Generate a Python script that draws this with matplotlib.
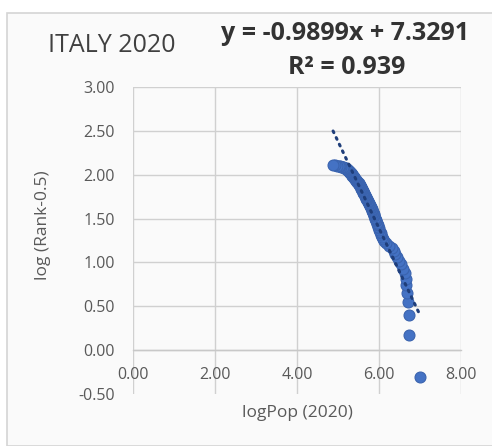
import numpy as np
import matplotlib
matplotlib.use("Agg")
import matplotlib.pyplot as plt
from matplotlib.patches import Rectangle

plt.rcParams['font.family'] = ['Open Sans', 'DejaVu Sans']

# logPop (2020) for each city, ordered by rank 1..129
log_pop = [
    7.00, 6.74, 6.74, 6.70, 6.68, 6.67, 6.65, 6.63, 6.59, 6.54,
    6.49, 6.44, 6.40, 6.37, 6.32, 6.25, 6.18, 6.13, 6.09, 6.08,
    6.06, 6.04, 6.03, 6.01, 6.00, 5.98, 5.97, 5.96, 5.95, 5.93,
    5.92, 5.91, 5.90, 5.89, 5.88, 5.87, 5.86, 5.85, 5.84, 5.83,
    5.82, 5.81, 5.80, 5.79, 5.78, 5.77, 5.76, 5.75, 5.74, 5.73,
    5.72, 5.71, 5.70, 5.69, 5.68, 5.68, 5.67, 5.66, 5.65, 5.64,
    5.64, 5.63, 5.62, 5.61, 5.61, 5.60, 5.59, 5.59, 5.58, 5.57,
    5.56, 5.56, 5.55, 5.54, 5.54, 5.53, 5.52, 5.51, 5.51, 5.50,
    5.49, 5.48, 5.47, 5.46, 5.46, 5.45, 5.44, 5.43, 5.42, 5.41,
    5.41, 5.40, 5.39, 5.38, 5.38, 5.37, 5.36, 5.35, 5.35, 5.34,
    5.33, 5.33, 5.32, 5.31, 5.31, 5.30, 5.29, 5.29, 5.28, 5.27,
    5.27, 5.26, 5.25, 5.24, 5.23, 5.22, 5.21, 5.20, 5.19, 5.17,
    5.15, 5.13, 5.11, 5.08, 5.05, 5.02, 4.98, 4.93, 4.88,
]
rank = np.arange(1, len(log_pop) + 1)
log_rank = np.log10(rank - 0.5)

# Excel linear trendline as printed on the chart
slope = -0.9899
intercept = 7.3291
r_squared = 0.939

x_ticks = [0, 2, 4, 6, 8]
y_ticks = [-0.5, 0, 0.5, 1, 1.5, 2, 2.5, 3]

fig = plt.figure(figsize=(4.92, 4.46), dpi=100)
fig.patch.set_facecolor('white')

# chart frame
frame = Rectangle((7 / 492, 0.5 / 446), 1.2, (446 - 13.5) / 446,
                  transform=fig.transFigure, facecolor='#fafafa',
                  edgecolor='#d4d4d4', linewidth=1.2, zorder=-10)
fig.patches.append(frame)

ax = fig.add_axes([133 / 492, 52 / 446, 328 / 492, 307 / 446])
ax.set_facecolor('#fafafa')

ax.scatter(log_pop, log_rank, s=62, facecolor='#4472C4',
           edgecolor='#3A63AE', linewidth=0.8, zorder=3)

xs = np.array([min(log_pop), max(log_pop)])
ax.plot(xs, slope * xs + intercept, color='#1F3E7A', linewidth=2.2,
        linestyle=(0, (0.6, 1.8)), dash_capstyle='round', zorder=4)

ax.set_xlim(0, 8)
ax.set_ylim(-0.5, 3)
ax.set_xticks(x_ticks)
ax.set_yticks(y_ticks)
ax.set_xticklabels([f'{v:.2f}' for v in x_ticks])
ax.set_yticklabels([f'{v:.2f}' for v in y_ticks])

ax.grid(True, color='#d0d0d0', linewidth=1.0, zorder=0)
ax.set_axisbelow(True)
ax.get_ygridlines()[0].set_visible(False)

for side in ['top', 'right', 'left']:
    ax.spines[side].set_visible(False)
ax.spines['bottom'].set_position(('data', 0))
ax.spines['bottom'].set_color('#c8c8c8')
ax.spines['bottom'].set_linewidth(1.0)

ax.tick_params(axis='both', length=0, labelsize=11.5, labelcolor='#595959')
ax.tick_params(axis='x', pad=12)
ax.tick_params(axis='y', pad=13)

fig.text(297 / 492, 1 - 413 / 446, 'logPop (2020)', ha='center', va='center',
         fontsize=12.5, color='#595959')
fig.text(43 / 492, 1 - 225 / 446, 'log (Rank-0.5)', ha='center', va='center',
         rotation=90, fontsize=12.5, color='#595959')

fig.text(112 / 492, 1 - 45 / 446, 'ITALY 2020', ha='center', va='center',
         fontsize=18, color='#404040')
fig.text(345 / 492, 1 - 34 / 446, f'y = {slope}x + {intercept}', ha='center',
         va='center', fontsize=18, fontweight='bold', color='#333333')
fig.text(347 / 492, 1 - 67 / 446, f'R² = {r_squared}', ha='center',
         va='center', fontsize=18, fontweight='bold', color='#333333')

fig.savefig('out.png', dpi=100)
